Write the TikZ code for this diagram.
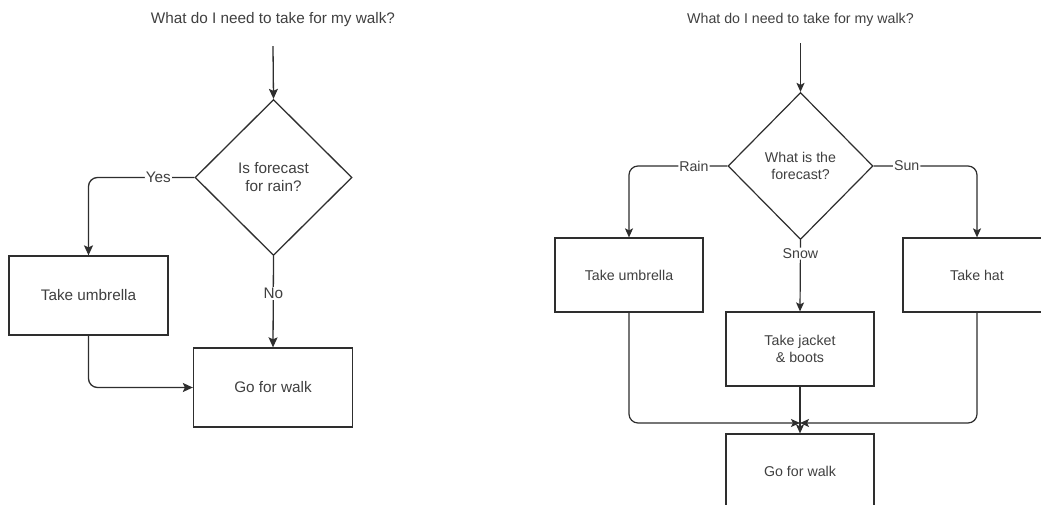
\documentclass[tikz,border=0pt]{standalone}
\usepackage{fontspec}
\setmainfont{Liberation Sans}
\usetikzlibrary{shapes.geometric,arrows.meta}
\definecolor{ln}{HTML}{2E2E2E}
\definecolor{tx}{HTML}{404040}
\begin{document}
\begin{tikzpicture}[x=1pt,y=-1pt,
  lbase/.style={text=tx, line width=1.3pt, draw=ln},
  big/.style={font=\fontsize{15.3}{18}\selectfont},
  small/.style={font=\fontsize{14.2}{17}\selectfont},
  boxA/.style={rectangle, draw=ln, line width=1.3pt, text=tx, align=center, inner sep=0pt, minimum width=159pt, minimum height=79pt, big},
  boxB/.style={rectangle, draw=ln, line width=1.2pt, text=tx, align=center, inner sep=0pt, minimum width=148pt, minimum height=74pt, small},
  decA/.style={diamond, draw=ln, line width=1.3pt, text=tx, align=center, inner sep=0pt, minimum width=157pt, minimum height=156pt, big},
  decB/.style={diamond, draw=ln, line width=1.2pt, text=tx, align=center, inner sep=0pt, minimum width=145pt, minimum height=147pt, small},
  titleA/.style={text=tx, big, inner sep=0pt, minimum height=52pt},
  titleB/.style={text=tx, small, inner sep=0pt, minimum height=46pt},
  edgeA/.style={draw=ln, line width=1.3pt, rounded corners=9pt, -{Stealth[length=10pt,width=9pt,inset=2pt]}},
  edgeB/.style={draw=ln, line width=1.2pt, rounded corners=9pt, -{Stealth[length=9pt,width=8pt,inset=2pt]}},
  lab/.style={fill=white, text=tx, inner sep=1pt}
]
\useasboundingbox (0,0) rectangle (1041,505);
\clip (0,0) rectangle (1041,505);
\fill[white] (0,0) rectangle (1041,505);

% ---------- left diagram ----------
\node[titleA] (t1) at (273,20) {What do I need to take for my walk?};
\node[decA] (d1) at (273.5,177.5) {Is forecast\\for rain?};
\node[boxA] (u1) at (88.5,295.5) {Take umbrella};
\node[boxA] (g1) at (273,387.5) {Go for walk};

\draw[edgeA] (t1.south) -- (d1.north);
\draw[edgeA] (d1.west) -| node[lab, big, pos=0.17] {Yes} (u1.north);
\draw[edgeA] (d1.south) -- node[lab, big, pos=0.41] {No} (g1.north);
\draw[edgeA] (u1.south) |- (g1.west);

% ---------- right diagram ----------
\node[titleB] (t2) at (800.5,20) {What do I need to take for my walk?};
\node[decB] (d2) at (800.5,166) {What is the\\forecast?};
\node[boxB] (u2) at (629,275) {Take umbrella};
\node[boxB] (h2) at (977,275) {Take hat};
\node[boxB] (j2) at (800,349) {Take jacket\\\& boots};
\node[boxB] (g2) at (800,471) {Go for walk};
\coordinate (m2) at (800,423);

\draw[edgeB] (t2.south) -- (d2.north);
\draw[edgeB] (d2.west) -| node[lab, small, pos=0.17] {Rain} (u2.north);
\draw[edgeB] (d2.east) -| node[lab, small, pos=0.16] {Sun} (h2.north);
\draw[edgeB] (d2.south) -- node[lab, small, pos=0.19] {Snow} (j2.north);
\draw[edgeB] (j2.south) -- (g2.north);
\draw[edgeB] (u2.south) |- (m2);
\draw[edgeB] (h2.south) |- (m2);
\end{tikzpicture}
\end{document}
